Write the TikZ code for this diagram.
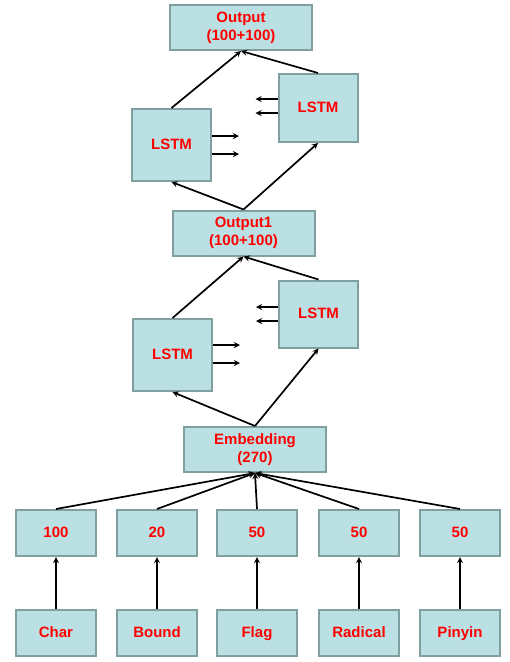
\documentclass[tikz,border=0pt]{standalone}
\usepackage{fontspec}
\setmainfont{Liberation Sans}
\usepackage{xcolor}
\usetikzlibrary{shapes,arrows,positioning}
\definecolor{boxfill}{RGB}{187,224,227}
\definecolor{boxline}{RGB}{128,160,160}

\begin{document}
\begin{tikzpicture}[x=1pt,y=-1pt,node distance=52pt]
            \tikzstyle{layer} = [rectangle, draw=boxline, line width=2pt, fill=boxfill, text=red, font=\bfseries\fontsize{15}{18}\selectfont, align=center, inner sep=0pt, minimum width=142pt, minimum height=45pt]
            \tikzstyle{cell} = [layer, minimum width=79pt, minimum height=72pt, text height=11pt, text depth=3pt]
            \tikzstyle{feat} = [layer, minimum width=80pt, minimum height=46pt, text height=11pt, text depth=3pt]
            \tikzstyle{arrow} = [line width=1.7pt,->,>=stealth]

            \useasboundingbox (0,0) rectangle (510,662);

            \node [layer] (out) at (241,27.5) {Output\\(100+100)};
            \node [cell] (fwd2) at (171.5,145) {LSTM};
            \node [cell, minimum height=68pt] (bwd2) at (318,108) {LSTM};
            \node [layer] (out1) at (243.5,233) {Output1\\(100+100)};
            \node [cell] (fwd1) at (172.5,355) {LSTM};
            \node [cell, minimum height=67pt] (bwd1) at (318.5,314) {LSTM};
            \node [layer] (emb) at (255,449.5) {Embedding\\(270)};

            \node [feat] (dchar) at (56,533) {100};
            \node [feat] (dbound) at (157,533) {20};
            \node [feat] (dflag) at (257,533) {50};
            \node [feat] (dradical) at (359,533) {50};
            \node [feat] (dpinyin) at (460,533) {50};

            \node [feat, below=of dchar] (char) {Char};
            \node [feat, below=of dbound] (bound) {Bound};
            \node [feat, below=of dflag] (flag) {Flag};
            \node [feat, below=of dradical] (radical) {Radical};
            \node [feat, below=of dpinyin] (pinyin) {Pinyin};

            % upper bi-lstm
            \draw [arrow] (fwd2.north) -- (out.south);
            \draw [arrow] (bwd2.north) -- (out.south);
            \draw [arrow] (out1.north) -- (fwd2.south);
            \draw [arrow] (out1.north) -- (bwd2.south);
            \draw [arrow] ([yshift=9pt]fwd2.east) -- ++(27,0);
            \draw [arrow] ([yshift=-9pt]fwd2.east) -- ++(27,0);
            \draw [arrow] ([yshift=9pt]bwd2.west) -- ++(-22,0);
            \draw [arrow] ([yshift=-5pt]bwd2.west) -- ++(-22,0);

            % lower bi-lstm
            \draw [arrow] (fwd1.north) -- (out1.south);
            \draw [arrow] (bwd1.north) -- (out1.south);
            \draw [arrow] (emb.north) -- (fwd1.south);
            \draw [arrow] (emb.north) -- (bwd1.south);
            \draw [arrow] ([yshift=10pt]fwd1.east) -- ++(27,0);
            \draw [arrow] ([yshift=-8pt]fwd1.east) -- ++(27,0);
            \draw [arrow] ([yshift=7pt]bwd1.west) -- ++(-22,0);
            \draw [arrow] ([yshift=-7pt]bwd1.west) -- ++(-22,0);

            % features
            \draw [arrow] (dchar.north) -- (emb.south);
            \draw [arrow] (dbound.north) -- (emb.south);
            \draw [arrow] (dflag.north) -- (emb.south);
            \draw [arrow] (dradical.north) -- (emb.south);
            \draw [arrow] (dpinyin.north) -- (emb.south);
            \draw [arrow] (char) -- (dchar);
            \draw [arrow] (bound) -- (dbound);
            \draw [arrow] (flag) -- (dflag);
            \draw [arrow] (radical) -- (dradical);
            \draw [arrow] (pinyin) -- (dpinyin);
        \end{tikzpicture}
\end{document}
